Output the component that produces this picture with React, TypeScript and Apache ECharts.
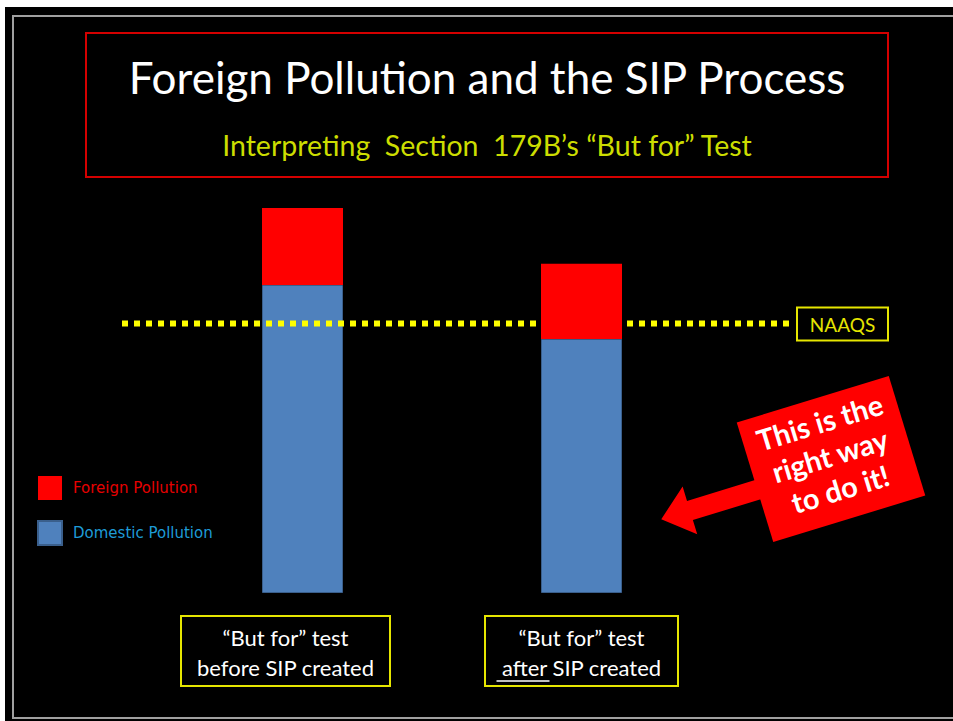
import React, { useEffect, useRef } from 'react';
import * as echarts from 'echarts';

const categories = ['“But for” test\nbefore SIP created', '“But for” test\nafter SIP created'];
const seriesNames = ['Foreign Pollution', 'Domestic Pollution'];
const domestic = [80, 66];
const foreign = [20, 19.5];
const naaqs = 70;
const naaqsLabel = 'NAAQS';
const titleText = 'Foreign Pollution and the SIP Process';
const subtitleText = 'Interpreting  Section  179B’s “But for” Test';
const calloutText = 'This is the\nright way\nto do it!';

const RED = '#ff0000';
const BLUE = '#4f81bd';
const YELLOW = '#e6e600';

export default function App() {
  const ref = useRef<HTMLDivElement>(null);
  useEffect(() => {
    if (!ref.current) return;
    const chart = echarts.init(ref.current, undefined, { renderer: 'svg' });
    chart.setOption({
      animation: false,
      backgroundColor: '#ffffff',
      grid: { left: 163, top: 208, width: 558, height: 385, containLabel: false },
      xAxis: {
        type: 'category',
        data: categories,
        axisLine: { show: false },
        axisTick: { show: false },
        axisLabel: { show: false },
      },
      yAxis: { type: 'value', min: 0, max: 100, show: false, splitLine: { show: false } },
      legend: {
        orient: 'vertical',
        left: 37,
        top: 476,
        padding: 0,
        itemWidth: 24,
        itemHeight: 24,
        itemGap: 20,
        icon: 'rect',
        selectedMode: false,
        textStyle: { fontFamily: 'DejaVu Sans', fontSize: 15, padding: [2, 0, 0, 6] },
        data: [
          { name: seriesNames[0], textStyle: { color: '#e60000' } },
          { name: seriesNames[1], textStyle: { color: '#1e9bd7' } },
        ],
      },
      series: [
        {
          name: seriesNames[1],
          type: 'bar',
          stack: 'total',
          barWidth: 81,
          data: domestic,
          itemStyle: { color: BLUE, borderColor: '#3a5f8c', borderWidth: 1 },
        },
        {
          name: seriesNames[0],
          type: 'bar',
          stack: 'total',
          barWidth: 81,
          data: foreign,
          itemStyle: { color: RED },
        },
      ],
    });

    const yN = chart.convertToPixel({ yAxisIndex: 0 }, naaqs) as number;
    const xc = categories.map((_, i) => chart.convertToPixel({ xAxisIndex: 0 }, i) as number);
    const half = 81 / 2;
    const boxOffsets = [-17, 0];
    const boxWidths = [209, 193];
    const boxTop = 616;
    const boxH = 70;

    const catGraphics: any[] = [];
    categories.forEach((c, i) => {
      const cx = xc[i] + boxOffsets[i];
      catGraphics.push({
        type: 'rect',
        z: 20,
        shape: { x: cx - boxWidths[i] / 2, y: boxTop, width: boxWidths[i], height: boxH },
        style: { fill: 'transparent', stroke: YELLOW, lineWidth: 2 },
      });
      catGraphics.push({
        type: 'text',
        z: 21,
        x: cx,
        y: boxTop + boxH / 2 + 1,
        style: {
          text: c,
          fill: '#ffffff',
          font: '22px Lato',
          align: 'center',
          verticalAlign: 'middle',
          lineHeight: 30,
        },
      });
    });
    // underline "after"
    catGraphics.push({
      type: 'line',
      z: 21,
      shape: { x1: xc[1] - 85, y1: boxTop + 65, x2: xc[1] - 32, y2: boxTop + 65 },
      style: { stroke: '#ffffff', lineWidth: 1.5 },
    });

    chart.setOption({
      graphic: [
        {
          type: 'rect',
          z: -10,
          silent: true,
          shape: { x: 5, y: 7, width: 960, height: 720 },
          style: { fill: '#000000' },
        },
        {
          type: 'rect',
          z: -9,
          silent: true,
          shape: { x: 13, y: 16, width: 960, height: 702 },
          style: { fill: 'transparent', stroke: '#a0a0a0', lineWidth: 2 },
        },
        {
          type: 'rect',
          z: 5,
          shape: { x: 86, y: 33, width: 802, height: 144 },
          style: { fill: 'transparent', stroke: '#d40000', lineWidth: 2 },
        },
        {
          type: 'text',
          z: 6,
          x: 487,
          y: 77,
          style: {
            text: titleText,
            fill: '#ffffff',
            font: '44px Lato',
            align: 'center',
            verticalAlign: 'middle',
          },
        },
        {
          type: 'text',
          z: 6,
          x: 487,
          y: 145,
          style: {
            text: subtitleText,
            fill: '#ccdd00',
            font: '28.5px Lato',
            align: 'center',
            verticalAlign: 'middle',
          },
        },
        {
          type: 'line',
          z: 10,
          shape: { x1: 122, y1: yN, x2: xc[1] - half, y2: yN },
          style: { stroke: '#ffff00', lineWidth: 6, lineDash: [6, 6] },
        },
        {
          type: 'line',
          z: 10,
          shape: { x1: xc[1] + half + 5, y1: yN, x2: 792, y2: yN },
          style: { stroke: '#ffff00', lineWidth: 6, lineDash: [6, 6] },
        },
        {
          type: 'rect',
          z: 10,
          shape: { x: 797, y: yN - 16, width: 91, height: 33 },
          style: { fill: 'transparent', stroke: YELLOW, lineWidth: 2 },
        },
        {
          type: 'text',
          z: 11,
          x: 842.5,
          y: yN + 1,
          style: {
            text: naaqsLabel,
            fill: YELLOW,
            font: '19px Lato',
            align: 'center',
            verticalAlign: 'middle',
          },
        },
        ...catGraphics,
        {
          type: 'group',
          z: 30,
          x: 831,
          y: 459,
          rotation: (17 * Math.PI) / 180,
          children: [
            {
              type: 'polygon',
              z: 30,
              shape: {
                points: [
                  [-60, -2],
                  [-150, -2],
                  [-150, -17],
                  [-180, 8],
                  [-150, 33],
                  [-150, 18],
                  [-60, 18],
                ],
              },
              style: { fill: RED },
            },
            {
              type: 'rect',
              z: 30,
              shape: { x: -79.5, y: -62.5, width: 159, height: 125 },
              style: { fill: RED },
            },
            {
              type: 'text',
              z: 31,
              x: 0,
              y: -4,
              style: {
                text: calloutText,
                fill: '#ffffff',
                font: 'bold 29px Lato',
                align: 'center',
                verticalAlign: 'middle',
                lineHeight: 35,
              },
            },
          ],
        },
      ],
    });

    return () => chart.dispose();
  }, []);
  return <div ref={ref} style={{ position: 'fixed', left: 0, top: 0, width: 953, height: 721 }} />;
}
